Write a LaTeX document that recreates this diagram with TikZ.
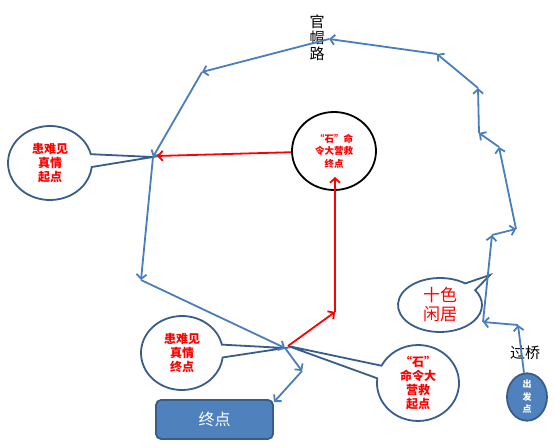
\documentclass[tikz,border=0pt]{standalone}
\usepackage{fontspec}
\newfontfamily\cjk{Noto Sans CJK SC}
\usetikzlibrary{arrows.meta,shapes.callouts,shapes.geometric}
\definecolor{lineblue}{HTML}{4A7EBB}
\definecolor{fillblue}{HTML}{4F81BD}
\definecolor{edgeblue}{HTML}{385D8A}
\begin{document}
\begin{tikzpicture}[x=1pt,y=1pt,
  bl/.style={draw=lineblue,line width=1.8pt,-{Straight Barb[length=4.5pt,width=10pt]}},
  rd/.style={draw=red,line width=1.8pt,-{Straight Barb[length=4.5pt,width=10pt]}},
  bubble/.style={ellipse callout,draw=edgeblue,line width=1.8pt,fill=white,align=center,text=red,
    font=\cjk\bfseries\fontsize{12}{14}\selectfont,inner sep=0pt,callout pointer arc=20},
  startc/.style={ellipse,draw=edgeblue,line width=1.8pt,fill=fillblue,minimum width=40pt,minimum height=44pt,
    inner sep=0pt,align=center,text=white,font=\cjk\bfseries\fontsize{9}{12.5}\selectfont},
  endbox/.style={rectangle,rounded corners=5pt,draw=edgeblue,line width=1.8pt,fill=fillblue,
    minimum width=117pt,minimum height=39pt,text=white,font=\cjk\fontsize{16}{18}\selectfont},
  cmdc/.style={ellipse,draw=black,line width=1.8pt,fill=white,minimum width=84pt,minimum height=78pt,
    inner sep=0pt,align=center,text=red,font=\cjk\bfseries\fontsize{9.5}{12.5}\selectfont},
  lbl/.style={font=\cjk\fontsize{15}{16}\selectfont,align=center,inner sep=0pt}
]
\useasboundingbox (0,0) rectangle (558,448);
% path coordinates
\coordinate (p1) at (518,123);
\coordinate (p2) at (483,126);
\coordinate (p3) at (492,213);
\coordinate (p4) at (516,219);
\coordinate (p5) at (499,301);
\coordinate (p6) at (479,315);
\coordinate (p7) at (478,360);
\coordinate (p8) at (437,394);
\coordinate (p9) at (329,409);
\coordinate (p10) at (202,376);
\coordinate (p11) at (153,291);
\coordinate (p12) at (141,168);
\coordinate (p13) at (285,100);
\coordinate (p14) at (302,77);
\coordinate (p15) at (274,46);
\coordinate (r0) at (288,102);
\coordinate (r1) at (335,136);
\coordinate (rt) at (335,271);
\coordinate (r2) at (157,292);

% nodes
\node[startc] (start) at (527,51) {出\\发\\点};
\node[endbox] (endb) at (214.5,28.5) {终点};
\node[cmdc] (cmd) at (334,297) {“石”命\\令大营救\\终点};
\node[bubble,minimum width=84pt,minimum height=74pt,callout absolute pointer={(p11)}] (c1) at (50,285) {患难见\\真情\\起点};
\node[bubble,minimum width=82pt,minimum height=74pt,callout absolute pointer={(p13)}] (c2) at (182,95) {患难见\\真情\\终点};
\node[bubble,minimum width=82pt,minimum height=74pt,callout absolute pointer={(r0)}] (c3) at (418,65) {“石”\\命令大\\营救\\起点};
\node[bubble,minimum width=84pt,minimum height=54pt,callout absolute pointer={(490,173)},
  font=\cjk\fontsize{17}{19}\selectfont] (c4) at (440,143) {十色\\闲居};
\node[lbl] (road) at (317,410) {官\\帽\\路};
\node[lbl] (bridge) at (525,95) {过桥};

% blue route
\draw[bl] (start) -- (p1);
\draw[bl] (p1) -- (p2);
\draw[bl] (p2) -- (p3);
\draw[bl] (p3) -- (p4);
\draw[bl] (p4) -- (p5);
\draw[bl] (p5) -- (p6);
\draw[bl] (p6) -- (p7);
\draw[bl] (p7) -- (p8);
\draw[bl] (p8) -- (p9);
\draw[bl] (p9) -- (p10);
\draw[bl] (p10) -- (p11);
\draw[bl] (p11) -- (p12);
\draw[bl] (p12) -- (p13);
\draw[bl] (p13) -- (p14);
\draw[bl] (p14) -- (p15);

% red route
\draw[rd] (r0) -- (r1);
\draw[rd] (r1) -- (rt);
\draw[rd] (cmd) -- (r2);
\end{tikzpicture}
\end{document}
